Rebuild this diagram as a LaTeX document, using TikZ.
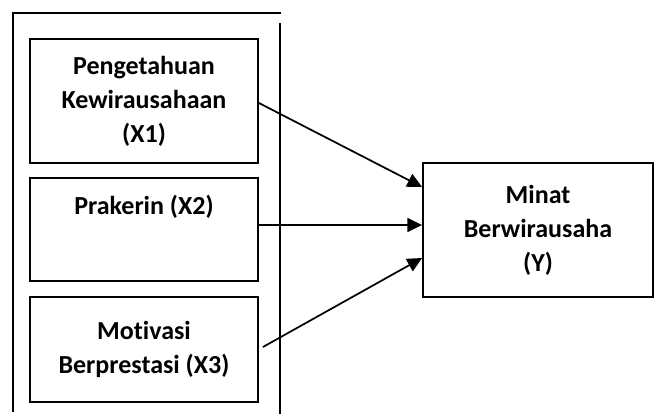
\documentclass[tikz,border=0pt]{standalone}
\usepackage{fontspec}
\setmainfont{Carlito}[Ligatures=NoCommon]
\usetikzlibrary{arrows.meta}

\tikzset{
    varbox/.style={draw, line width=1.4pt, minimum width=171pt, align=center,
        font=\fontsize{19.5}{25.5}\selectfont\bfseries},
    arr/.style={line width=1.3pt, -{Triangle[length=11pt, width=10.5pt]}}
}

\begin{document}
\begin{tikzpicture}[x=0.75pt, y=-0.75pt]
    \useasboundingbox (0,0) rectangle (657,414);
    % frame round the independent variables
    \draw[line width=1.4pt] (13,412) -- (13,13) -- (281,13);
    \draw[line width=1.4pt] (280,23) -- (280,414);
    % boxes
    \node[varbox, minimum height=93pt] (x1) at (144,101) {Pengetahuan\\Kewirausahaan\\(X1)};
    \node[varbox, minimum height=77pt] (x2) at (144,229.5) {};
    \node[font=\fontsize{19.5}{25.5}\selectfont\bfseries] (x2t) at (144,207) {Prakerin (X2)};
    \node[varbox, minimum height=79pt] (x3) at (144,349.5) {Motivasi\\Berprestasi (X3)};
    \node[varbox, minimum width=172.5pt, minimum height=100.5pt] (y) at (538,230) {Minat\\Berwirausaha\\(Y)};
    % arrows
    \draw[arr] ([shift={(0,2)}]x1.east) -- ([shift={(0,-43)}]y.west);
    \draw[arr] ([shift={(0,-4.5)}]x2.east) -- ([shift={(0,-5)}]y.west);
    \draw[arr] ([shift={(4,-2.5)}]x3.east) -- ([shift={(0,28)}]y.west);
\end{tikzpicture}
\end{document}
